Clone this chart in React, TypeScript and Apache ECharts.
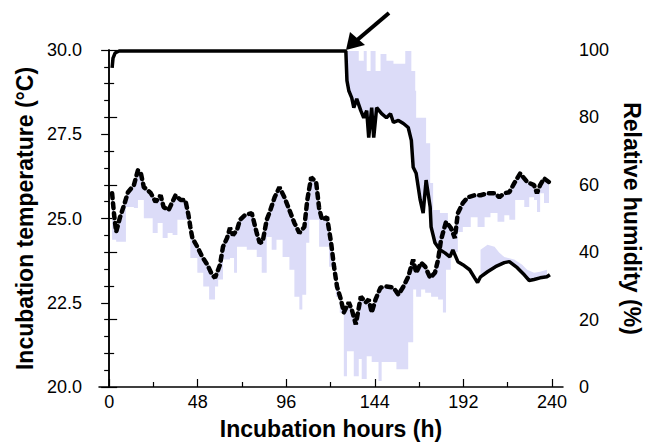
import React, { useEffect, useRef } from "react";
import * as echarts from "echarts";

// Temperature (dashed line), [hour, °C]
const temperatureLine: number[][] = [
  [1.6, 25.75], [2.7, 25.1], [3.8, 24.6], [5.9, 25.04], [8.1, 25.4], [10.2, 25.78], [13.4, 25.99], [15.6, 26.43],
  [17.2, 26.34], [18.8, 25.93], [20.9, 25.84], [22.6, 25.75], [25.2, 25.49], [27.9, 25.69], [29.5, 25.34], [32.2, 25.25],
  [36.0, 25.69], [38.7, 25.55], [41.3, 25.55], [43.0, 25.1], [44.0, 24.75], [45.1, 24.42], [47.8, 24.16], [50.5, 23.86],
  [53.2, 23.63], [55.8, 23.33], [57.4, 23.24], [60.1, 23.63], [61.7, 24.16], [63.9, 24.42], [65.5, 24.72], [67.1, 24.51],
  [69.3, 24.66], [70.9, 24.96], [73.6, 25.1], [77.3, 25.16], [78.9, 24.81], [80.0, 24.57], [81.6, 24.28], [83.2, 24.31],
  [85.4, 24.96], [87.0, 25.19], [89.7, 25.63], [92.3, 25.93], [95.0, 25.63], [97.7, 25.25], [100.4, 24.87], [103.1, 24.57],
  [105.8, 24.75], [107.4, 25.55], [109.5, 26.22], [112.2, 26.08], [113.8, 25.31], [115.4, 24.96], [118.1, 25.04], [120.3, 24.28],
  [121.9, 23.57], [123.5, 22.98], [125.6, 22.6], [127.2, 22.21], [129.9, 22.51], [131.5, 22.3], [133.7, 21.86], [136.4, 22.68],
  [139.1, 22.51], [140.7, 22.6], [142.3, 22.21], [144.4, 22.6], [147.1, 22.95], [150.3, 22.98], [154.1, 22.95], [156.8, 22.74],
  [159.5, 22.98], [162.1, 23.27], [164.8, 23.78], [166.4, 23.39], [169.1, 23.69], [171.3, 23.57], [174.0, 23.24], [176.6, 23.39],
  [178.3, 23.78], [179.9, 24.37], [182.6, 24.9], [185.2, 24.72], [187.4, 24.42], [189.0, 25.16], [191.7, 25.46], [194.4, 25.63],
  [198.1, 25.69], [201.3, 25.69], [205.1, 25.75], [208.9, 25.75], [211.5, 25.63], [214.2, 25.75], [216.9, 25.78], [219.6, 26.05],
  [222.8, 26.34], [226.6, 26.08], [230.3, 25.99], [231.9, 25.75], [233.6, 25.99], [235.7, 26.19], [238.4, 26.08],
];

// Temperature band lower edge, [hour, °C]
const temperatureBandLow: number[][] = [
  [1.6, 24.37], [3.8, 24.31], [9.1, 25.34], [13.4, 25.31], [15.6, 25.55], [18.8, 25.01], [23.6, 24.57], [26.3, 24.87],
  [29.0, 24.42], [31.7, 24.57], [34.4, 24.51], [37.0, 24.96], [42.4, 24.96], [44.0, 23.83], [47.8, 23.39], [51.0, 22.98],
  [54.2, 22.6], [57.4, 22.98], [59.1, 23.19], [61.7, 23.78], [65.5, 23.83], [67.7, 23.39], [69.3, 24.16], [74.6, 24.07],
  [80.0, 23.86], [82.7, 23.39], [85.4, 24.45], [88.1, 24.07], [90.7, 24.37], [94.0, 23.86], [97.7, 23.48], [100.4, 22.68],
  [103.1, 22.3], [104.7, 22.74], [106.8, 24.28], [108.5, 24.96], [113.8, 24.16], [119.2, 23.57], [122.9, 22.68], [125.0, 22.2],
  [127.2, 20.32], [128.9, 21.06], [132.6, 20.32], [135.3, 20.83], [136.9, 20.24], [139.6, 20.91], [142.3, 20.74], [146.0, 20.18],
  [147.7, 20.74], [151.4, 20.74], [155.7, 20.53], [160.5, 20.53], [162.1, 21.33], [164.8, 22.89], [166.4, 22.68], [169.1, 22.89],
  [171.3, 22.8], [174.5, 22.68], [178.3, 22.6], [180.9, 22.21], [182.6, 23.48], [185.2, 24.0], [189.0, 24.6], [191.7, 24.75],
  [194.4, 24.75], [196.0, 25.04], [199.7, 24.75], [203.5, 25.04], [206.7, 25.16], [210.5, 24.9], [214.2, 25.1], [216.9, 24.96],
  [220.1, 25.55], [225.0, 25.34], [227.7, 25.63], [230.3, 25.55], [231.9, 25.19], [233.6, 25.75], [235.7, 25.46], [238.4, 25.46],
];

// Relative humidity (solid line), [hour, %]
const humidityLine: number[][] = [
  [1.6, 94.7], [2.1, 97.6], [3.2, 99.1], [5.4, 99.7], [126.2, 99.7], [128.3, 99.7], [128.9, 90.9], [129.9, 87.9],
  [131.5, 85.8], [132.6, 82.9], [134.2, 85.5], [136.4, 82.0], [138.0, 79.9], [139.6, 82.0], [140.7, 74.0], [142.3, 82.9],
  [143.4, 74.0], [145.0, 82.9], [147.7, 81.1], [150.3, 79.9], [152.5, 81.1], [154.1, 78.5], [156.8, 79.1], [159.5, 78.2],
  [162.1, 77.0], [163.8, 73.2], [164.8, 65.2], [166.4, 63.4], [168.6, 55.5], [170.2, 51.6], [171.8, 61.4], [174.0, 53.4],
  [174.5, 47.5], [176.6, 42.8], [179.3, 40.7], [182.0, 39.8], [184.7, 38.6], [186.3, 40.7], [189.0, 37.2], [191.7, 36.3],
  [195.4, 34.8], [198.1, 32.4], [199.7, 31.0], [201.3, 32.7], [205.1, 34.2], [209.4, 35.7], [214.2, 36.9], [216.9, 37.2],
  [221.2, 35.4], [225.0, 33.3], [227.7, 31.6], [230.3, 31.9], [233.6, 32.4], [237.3, 32.7], [238.9, 33.3],
];

// Humidity band upper edges, [hour, %]
const humidityBandTopA: number[][] = [
  [128.9, 99.7], [134.2, 99.7], [135.3, 96.8], [138.0, 99.7], [139.6, 93.8], [141.7, 99.7], [144.4, 93.8], [147.1, 98.8],
  [150.3, 96.8], [154.1, 95.9], [157.9, 95.9], [160.5, 99.7], [163.8, 93.8], [165.9, 87.9], [166.4, 79.9], [171.8, 72.3],
  [174.0, 60.5], [175.6, 52.5], [179.3, 51.6], [183.6, 49.6],
];
const humidityBandTopB: number[][] = [
  [201.3, 40.7], [205.1, 42.2], [208.9, 41.6], [211.5, 39.8], [214.2, 38.6], [219.6, 37.8], [223.9, 36.3], [226.6, 34.8],
  [230.3, 33.9], [233.6, 34.2], [237.3, 34.8],
];

const hourLabels = [0, 48, 96, 144, 192, 240];
const hourMinorTicks = [24, 72, 120, 168, 216];

const FONT = "'Liberation Sans', Arial, sans-serif";
const BAND = "#dcdcf8";

function stepPoints(api: any, pts: number[][], endH: number) {
  const out: number[][] = [];
  for (let i = 0; i < pts.length; i++) {
    const next = i + 1 < pts.length ? pts[i + 1][0] : endH;
    out.push(api.coord([pts[i][0], pts[i][1]]));
    out.push(api.coord([next, pts[i][1]]));
  }
  return out;
}

function linePoints(api: any, pts: number[][], h0: number, h1: number) {
  return pts.filter((p) => p[0] >= h0 && p[0] <= h1).map((p) => api.coord([p[0], p[1]]));
}

export default function App() {
  const ref = useRef<HTMLDivElement>(null);
  useEffect(() => {
    document.body.style.margin = "0";
    if (!ref.current) return;
    const chart = echarts.init(ref.current, undefined, { renderer: "svg" });

    const tempBandRender = (params: any, api: any) => {
      if (params.dataIndex !== 0) return null;
      const h0 = temperatureBandLow[0][0];
      const h1 = temperatureBandLow[temperatureBandLow.length - 1][0];
      const upper = linePoints(api, temperatureLine, h0, h1);
      const lower = stepPoints(api, temperatureBandLow, h1).reverse();
      return { type: "polygon", shape: { points: upper.concat(lower) }, style: { fill: BAND } };
    };
    const humBandRender = (top: number[][], step: boolean) => (params: any, api: any) => {
      if (params.dataIndex !== 0) return null;
      const h0 = top[0][0];
      const h1 = top[top.length - 1][0];
      const upper = step ? stepPoints(api, top, h1) : top.map((p) => api.coord(p));
      const lower = linePoints(api, humidityLine, h0, h1).reverse();
      return { type: "polygon", shape: { points: upper.concat(lower) }, style: { fill: BAND } };
    };

    const axisLineStyle = { color: "#000", width: 1.5 };
    const labelStyle = { color: "#000", fontSize: 18, fontFamily: FONT };
    const nameStyle = { color: "#000", fontSize: 23, fontWeight: "bold" as const, fontFamily: FONT };

    chart.setOption({
      animation: false,
      grid: { left: 99, right: 84, top: 50, bottom: 61 },
      xAxis: [
        {
          type: "value",
          min: -5.5,
          max: 246,
          name: "Incubation hours (h)",
          nameLocation: "middle",
          nameGap: 30,
          nameTextStyle: nameStyle,
          axisLine: { lineStyle: axisLineStyle },
          axisTick: { customValues: hourLabels, inside: true, length: 8, lineStyle: { color: "#000", width: 1.2 } },
          axisLabel: { customValues: hourLabels, margin: 6, ...labelStyle },
          splitLine: { show: false },
        },
        {
          type: "value",
          min: -5.5,
          max: 246,
          position: "bottom",
          axisLine: { show: false },
          axisTick: { customValues: hourMinorTicks, inside: true, length: 5, lineStyle: { color: "#000", width: 1.2 } },
          axisLabel: { show: false },
          splitLine: { show: false },
        },
      ],
      yAxis: [
        {
          type: "value",
          min: 20,
          max: 30,
          interval: 2.5,
          name: "Incubation temperature (°C)",
          nameLocation: "middle",
          nameGap: 59,
          nameTextStyle: nameStyle,
          axisLine: { show: true, lineStyle: axisLineStyle },
          axisTick: { show: true, length: 8, lineStyle: { color: "#000", width: 1.2 } },
          minorTick: { show: true, splitNumber: 5, length: 5, lineStyle: { color: "#000", width: 1.2 } },
          axisLabel: { margin: 17, formatter: (v: number) => v.toFixed(1), ...labelStyle },
          splitLine: { show: false },
        },
        {
          type: "value",
          min: 0,
          max: 100,
          interval: 20,
          position: "right",
          name: "Relative humidity (%)",
          nameLocation: "middle",
          nameGap: 57,
          nameRotate: -90,
          nameTextStyle: nameStyle,
          axisLine: { show: true, lineStyle: axisLineStyle },
          axisTick: { show: true, length: 8, lineStyle: { color: "#000", width: 1.2 } },
          minorTick: { show: true, splitNumber: 2, length: 5, lineStyle: { color: "#000", width: 1.2 } },
          axisLabel: { margin: 16, ...labelStyle },
          splitLine: { show: false },
        },
      ],
      series: [
        {
          type: "custom",
          name: "Temperature range",
          data: temperatureBandLow,
          encode: { x: 0, y: 1 },
          renderItem: tempBandRender,
          silent: true,
          z: 1,
        },
        {
          type: "custom",
          name: "Humidity range A",
          yAxisIndex: 1,
          data: humidityBandTopA,
          encode: { x: 0, y: 1 },
          renderItem: humBandRender(humidityBandTopA, true),
          silent: true,
          z: 1,
        },
        {
          type: "custom",
          name: "Humidity range B",
          yAxisIndex: 1,
          data: humidityBandTopB,
          encode: { x: 0, y: 1 },
          renderItem: humBandRender(humidityBandTopB, false),
          silent: true,
          z: 1,
        },
        {
          type: "line",
          name: "Temperature",
          data: temperatureLine,
          showSymbol: false,
          lineStyle: { color: "#000", width: 4.5, type: [5, 5], cap: "round" },
          z: 3,
        },
        {
          type: "line",
          name: "Relative humidity",
          yAxisIndex: 1,
          data: humidityLine,
          showSymbol: false,
          lineStyle: { color: "#000", width: 3.5 },
          z: 3,
        },
      ],
      graphic: [
        { type: "line", shape: { x1: 389, y1: 13, x2: 356, y2: 41 }, style: { stroke: "#000", lineWidth: 4 }, z: 10 },
        { type: "polygon", shape: { points: [[346, 50], [350, 32], [365, 45]] }, style: { fill: "#000" }, z: 10 },
      ],
    });
    return () => chart.dispose();
  }, []);
  return <div ref={ref} style={{ width: 651, height: 448 }} />;
}
